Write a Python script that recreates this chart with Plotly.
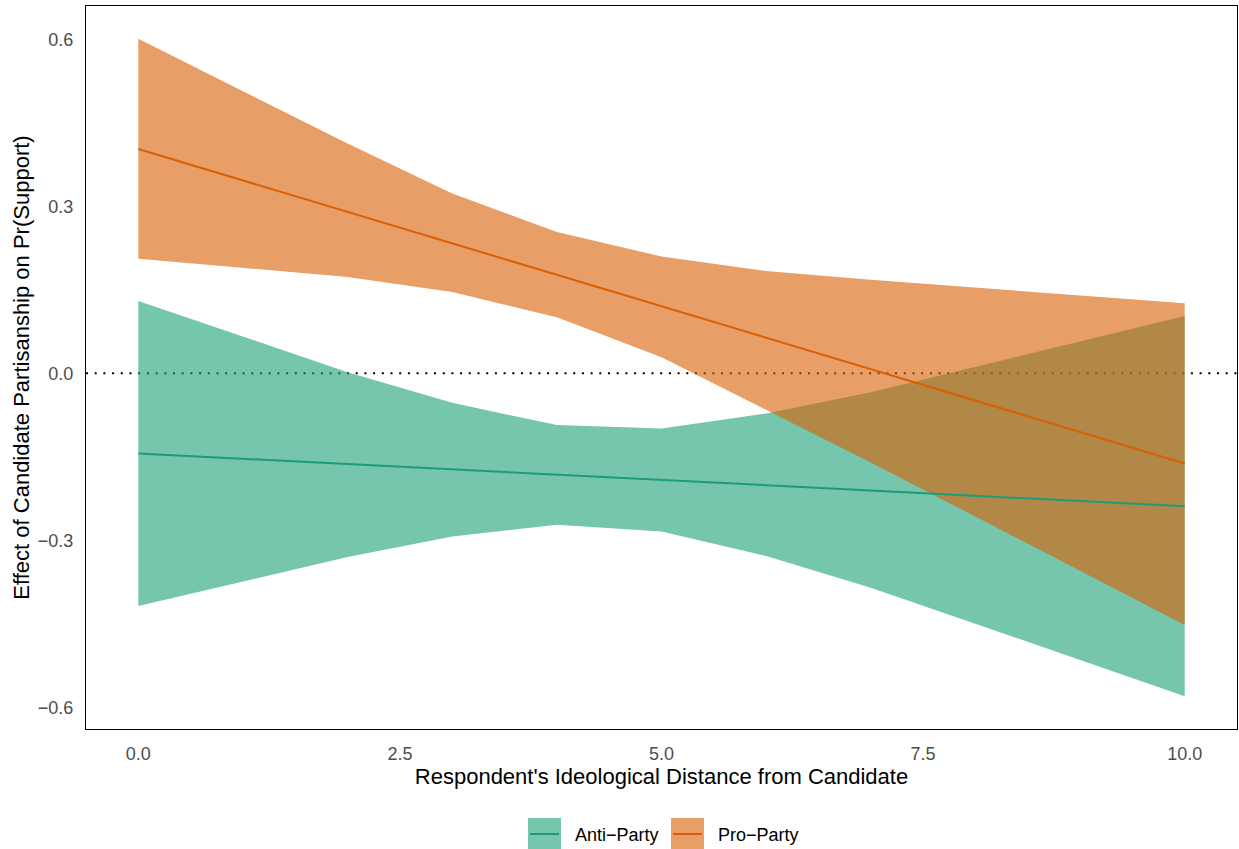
import plotly.graph_objects as go

# ---- data ----
band_x = [0, 2, 3, 4, 5, 6, 7, 10]
anti_upper = [0.130, 0.002, -0.053, -0.093, -0.099, -0.072, -0.034, 0.103]
anti_lower = [-0.418, -0.330, -0.293, -0.272, -0.284, -0.328, -0.385, -0.580]
pro_upper = [0.601, 0.413, 0.323, 0.254, 0.210, 0.184, 0.168, 0.126]
pro_lower = [0.206, 0.173, 0.146, 0.101, 0.029, -0.066, -0.160, -0.452]

line_x = [0, 10]
anti_est = [-0.144, -0.239]
pro_est = [0.403, -0.162]

x_ticks = [0, 2.5, 5, 7.5, 10]
x_ticktext = ["0.0", "2.5", "5.0", "7.5", "10.0"]
y_ticks = [-0.6, -0.3, 0.0, 0.3, 0.6]
y_ticktext = ["\u22120.6", "\u22120.3", "0.0", "0.3", "0.6"]

series_names = ["Anti\u2212Party", "Pro\u2212Party"]

GREEN = "#1B9E77"
ORANGE = "#D95F02"
GREEN_FILL = "rgba(27,158,119,0.6)"
ORANGE_FILL = "rgba(217,95,2,0.6)"
FONT = "Liberation Sans, Arial, Helvetica, sans-serif"

fig = go.Figure()

# ribbons
for lo, up, fill in [(anti_lower, anti_upper, GREEN_FILL), (pro_lower, pro_upper, ORANGE_FILL)]:
    fig.add_trace(go.Scatter(x=band_x, y=lo, mode="lines", line=dict(width=0),
                             showlegend=False, hoverinfo="skip"))
    fig.add_trace(go.Scatter(x=band_x, y=up, mode="lines", line=dict(width=0),
                             fill="tonexty", fillcolor=fill, showlegend=False, hoverinfo="skip"))

# estimate lines
fig.add_trace(go.Scatter(x=line_x, y=anti_est, mode="lines", line=dict(color=GREEN, width=2),
                         showlegend=False))
fig.add_trace(go.Scatter(x=line_x, y=pro_est, mode="lines", line=dict(color=ORANGE, width=2),
                         showlegend=False))

# dotted zero line (below traces)
fig.add_shape(type="line", xref="paper", x0=0, x1=1, yref="y", y0=0, y1=0,
              line=dict(color="black", width=2, dash="2px,6.7px"), layer="below")

# manual legend
W, H = 1239, 849
L, R, T, B = 86, 2, 6, 120
pw, ph = W - L - R, H - T - B


def px2x(p):
    return (p - L) / pw


def px2y(p):
    return (H - B - p) / ph


legend_items = [
    (series_names[0], GREEN_FILL, GREEN, 528, 573),
    (series_names[1], ORANGE_FILL, ORANGE, 671, 716),
]
for name, fill, col, kx, tx in legend_items:
    fig.add_shape(type="rect", xref="paper", yref="paper",
                  x0=px2x(kx), x1=px2x(kx + 33), y0=px2y(818), y1=px2y(849),
                  fillcolor=fill, line=dict(width=0))
    fig.add_shape(type="line", xref="paper", yref="paper",
                  x0=px2x(kx + 2), x1=px2x(kx + 31), y0=px2y(834), y1=px2y(834),
                  line=dict(color=col, width=2))
    fig.add_annotation(xref="paper", yref="paper", x=px2x(tx), y=px2y(835),
                       text=name, showarrow=False, xanchor="left", yanchor="middle",
                       font=dict(family=FONT, size=18, color="black"))

fig.update_layout(
    width=W, height=H,
    margin=dict(l=L, r=R, t=T, b=B),
    paper_bgcolor="white", plot_bgcolor="white",
    font=dict(family=FONT),
    showlegend=False,
)
fig.update_xaxes(
    range=[-0.5, 10.5], tickvals=x_ticks, ticktext=x_ticktext,
    showgrid=False, zeroline=False, ticks="",
    showline=True, mirror=True, linecolor="black", linewidth=1,
    tickfont=dict(family=FONT, size=18, color="#4D4D4D"),
    ticklabelstandoff=8,
    title=dict(text="Respondent's Ideological Distance from Candidate",
               font=dict(family=FONT, size=22, color="black"), standoff=3),
    automargin=False,
)
fig.update_yaxes(
    range=[-0.639, 0.660], tickvals=y_ticks, ticktext=y_ticktext,
    showgrid=False, zeroline=False, ticks="",
    showline=True, mirror=True, linecolor="black", linewidth=1,
    tickfont=dict(family=FONT, size=18, color="#4D4D4D"),
    ticklabelstandoff=8,
    title=dict(text="Effect of Candidate Partisanship on Pr(Support)",
               font=dict(family=FONT, size=22, color="black"), standoff=2),
    automargin=False,
)

fig.write_html("out.html")
